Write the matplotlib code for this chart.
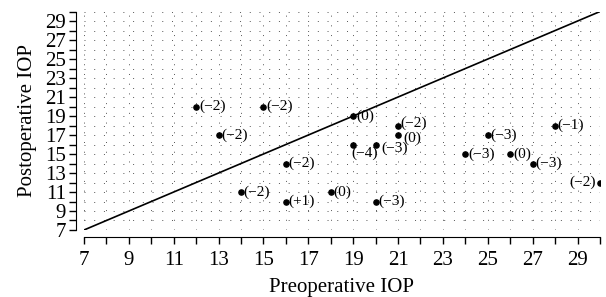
import matplotlib
matplotlib.use('Agg')
import matplotlib.pyplot as plt
from matplotlib.ticker import MultipleLocator

plt.rcParams['font.family'] = ['Liberation Serif', 'DejaVu Serif']

pre_iop = [12, 15, 13, 19, 21, 21, 19, 20, 16, 14, 16, 18, 20, 24, 25, 26, 27, 28, 30]
post_iop = [20, 20, 17, 19, 18, 17, 16, 16, 14, 11, 10, 11, 10, 15, 17, 15, 14, 18, 12]
changes = ['(−2)', '(−2)', '(−2)', '(0)', '(−2)', '(0)', '(−4)', '(−3)', '(−2)', '(−2)',
           '(+1)', '(0)', '(−3)', '(−3)', '(−3)', '(0)', '(−3)', '(−1)', '(−2)']

# label offsets in points (dx, dy, ha) for crowded spots
label_offsets = {4: (2, 1.5, 'left'), 6: (-1, -6.5, 'left'), 7: (4, -3, 'left'),
                 5: (4, -2.5, 'left'), 18: (-3, 0, 'right')}

fig = plt.figure(figsize=(6.06, 2.97), dpi=100)
ax = fig.add_axes([0.1386, 0.2256, 0.8514, 0.7355])

ax.plot([7, 30], [7, 30], color='black', linewidth=1.2)
ax.scatter(pre_iop, post_iop, s=14, color='black', zorder=3)
for i, (x, y, t) in enumerate(zip(pre_iop, post_iop, changes)):
    dx, dy, ha = label_offsets.get(i, (2, 0, 'left'))
    ax.annotate(t, (x, y), xytext=(dx, dy), textcoords='offset points',
                ha=ha, va='center', fontsize=11)

ax.set_xlim(7, 30)
ax.set_ylim(7, 30)
ax.xaxis.set_minor_locator(MultipleLocator(1))
ax.yaxis.set_minor_locator(MultipleLocator(1))
ax.set_xticks(range(7, 30, 2))
ax.set_yticks(range(7, 30, 2))

ax.grid(which='both', color='#555555', linestyle=(0, (1, 9)), linewidth=0.7)
ax.set_axisbelow(True)

for s in ['top', 'right']:
    ax.spines[s].set_visible(False)
ax.spines['bottom'].set_position(('outward', 5))
ax.spines['left'].set_position(('outward', 6))
ax.tick_params(which='both', direction='out', length=5, width=1, labelsize=15)
ax.tick_params(axis='x', pad=5)
ax.tick_params(axis='y', pad=2)

ax.set_xlabel('Preoperative IOP', fontsize=15, labelpad=6)
ax.set_ylabel('Postoperative IOP', fontsize=15, labelpad=6)

fig.savefig('out.png', dpi=100)
